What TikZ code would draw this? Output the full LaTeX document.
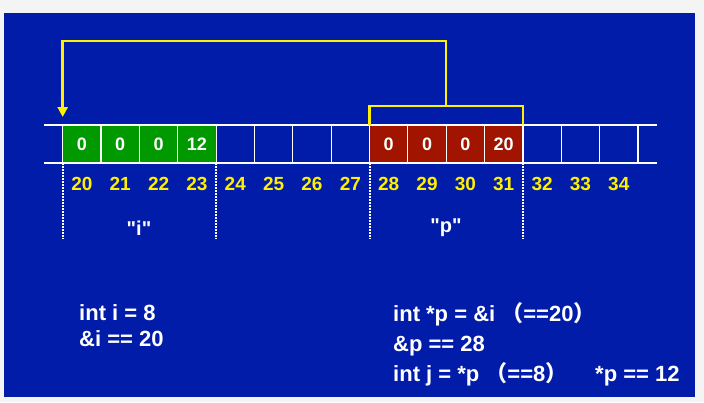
\documentclass[tikz,border=0pt]{standalone}
\usepackage{fontspec}
\setmainfont{Liberation Sans}
\newfontfamily\plainsans{Liberation Sans}
\newfontfamily\cjk{Noto Sans CJK SC}
\usetikzlibrary{arrows.meta,calc}
\definecolor{pagegray}{RGB}{244,244,244}
\definecolor{bgblue}{RGB}{0,28,168}
\definecolor{cellgreen}{RGB}{0,154,0}
\definecolor{cellred}{RGB}{160,20,0}
\definecolor{ptryellow}{RGB}{255,240,0}
\tikzset{
  cell/.style={draw=white, line width=1.2pt, minimum width=38.35pt, minimum height=38pt,
    inner sep=0pt, outer sep=0pt, anchor=north west, text=white},
  gcell/.style={cell, fill=cellgreen},
  rcell/.style={cell, fill=cellred},
  val/.style={text=white, font=\plainsans\fontsize{18}{18}\selectfont\bfseries, inner sep=0pt},
  addr/.style={text=ptryellow, font=\plainsans\fontsize{19}{19}\selectfont\bfseries, inner sep=0pt},
  rail/.style={draw=white, line width=2pt},
  bound/.style={draw=white, line width=2pt, dash pattern=on 2pt off 1pt},
  varname/.style={text=white, font=\plainsans\fontsize{20}{20}\selectfont\bfseries, inner sep=0pt},
  code/.style={text=white, font=\plainsans\fontsize{22}{22}\selectfont\bfseries, inner sep=0pt, anchor=base west},
  ptr/.style={draw=ptryellow, line width=2.5pt},
}
\begin{document}
\begin{tikzpicture}[x=1pt,y=-1pt]
\useasboundingbox (0,0) rectangle (704,402);
\fill[pagegray] (0,0) rectangle (704,402);
\fill[bgblue] (4,13) rectangle (695,397);
% memory cells
\foreach \n [count=\i from 0] in {20,...,34}{
  \pgfmathsetmacro{\xx}{62.7+38.35*\i}
  \ifnum\n<24
    \node[gcell] (c\n) at (\xx,125) {};
  \else\ifnum\n>27 \ifnum\n<32
    \node[rcell] (c\n) at (\xx,125) {};
  \else
    \node[cell] (c\n) at (\xx,125) {};
  \fi\else
    \node[cell] (c\n) at (\xx,125) {};
  \fi\fi
  \node[addr] (a\n) at ([yshift=-21pt]c\n.south) {\n};
}
\node[val] (v20) at (c20) {0};
\node[val] (v21) at (c21) {0};
\node[val] (v22) at (c22) {0};
\node[val] (v23) at (c23) {12};
\node[val] (v28) at (c28) {0};
\node[val] (v29) at (c29) {0};
\node[val] (v30) at (c30) {0};
\node[val] (v31) at (c31) {20};
% rails
\coordinate (rl) at (44,125);
\coordinate (rr) at (657,125);
\coordinate (sl) at (44,163);
\coordinate (sr) at (657,163);
\draw[rail] (rl) -- (rr);
\draw[rail] (sl) -- (sr);
% variable boundaries
\foreach \c in {c20.south west, c23.south east, c28.south west, c31.south east}{
  \draw[bound] (\c) -- ++(0,76);
}
\node[varname] (vi) at (139,228) {"i"};
\node[varname] (vp) at (446,228) {"p"};
% pointer
\coordinate (bl) at ([yshift=19pt]c28.north west);
\coordinate (br) at ([yshift=19pt]c31.north east);
\coordinate (bm) at ($(bl)!0.5!(br)$);
\coordinate (tip) at ([yshift=8pt]c20.north west);
\draw[ptr] (c28.north west) -- (bl) -- (br) -- (c31.north east);
\draw[ptr, -{Triangle[width=10pt,length=10pt]}] (bm) -- (bm |- 0,41) -- (tip |- 0,41) -- (tip);
% code text
\node[code] (t1) at (79,320.5) {int i = 8};
\node[code] (t2) at (79,346.5) {\&i == 20};
\node[code] (t3) at (393,321.5) {int *p = \&i {\cjk （}==20{\cjk ）}};
\node[code] (t4) at (393,351.5) {\&p == 28};
\node[code] (t5) at (393,381.5) {int j = *p {\cjk （}==8{\cjk ）}};
\node[code] (t6) at (595,381.5) {*p == 12};
\end{tikzpicture}
\end{document}
